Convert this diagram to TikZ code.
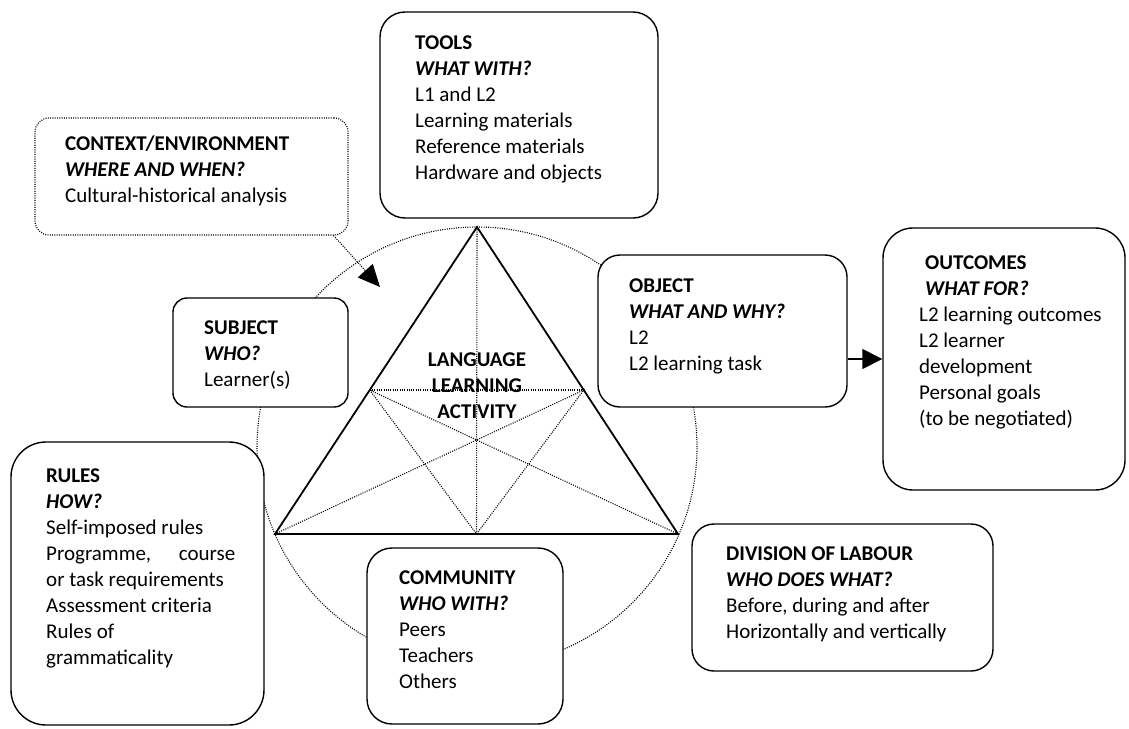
\documentclass[tikz,border=0pt]{standalone}
\usepackage{fontspec}
\setmainfont{Carlito}
\usetikzlibrary{arrows.meta,calc}
\newcommand\blk[1]{\begin{tabular}[t]{@{}l@{}}#1\end{tabular}}
\newcommand\blc[1]{\begin{tabular}[t]{@{}c@{}}#1\end{tabular}}
\newcommand\hd[1]{\textbf{#1}}
\newcommand\qu[1]{\textbf{\textit{#1}}}
\begin{document}
\begin{tikzpicture}[x=1pt,y=-1pt,
  box/.style={draw, line width=1.4pt, fill=white, rounded corners=#1, inner sep=0pt},
  box/.default=20pt,
  dots/.style={line width=1.1pt, dash pattern=on 1pt off 1.3pt},
  txt/.style={anchor=base west, inner sep=0pt, font=\fontsize{21}{26}\selectfont},
  ctxt/.style={anchor=base, inner sep=0pt, font=\fontsize{21}{26}\selectfont},
  tri/.style={line width=1.8pt, line join=miter},
  arr/.style={line width=1.5pt, -{Triangle[length=20pt,width=20pt]}}
]
\useasboundingbox (0,0) rectangle (1129,728);

% activity circle and triangle
\node[circle, draw, dots, minimum size=440pt, inner sep=0pt] (circ) at (477,447) {};
\coordinate (A) at (477,227);
\coordinate (L) at (275,534);
\coordinate (R) at (678,534);
\coordinate (M) at ($(L)!0.5!(R)$);
\coordinate (P) at ($(L)!0.469!(A)$);
\coordinate (Q) at ($(R)!0.469!(A)$);
\draw[dots] (A) -- (M);
\draw[dots] (P) -- (Q);
\draw[dots] (P) -- (M) -- (Q);
\draw[dots] (L) -- (Q);
\draw[dots] (R) -- (P);
\draw[tri] (A) -- (L) -- (R) -- cycle;
\node[ctxt] (act) at (477,366) {\blc{\hd{LANGUAGE}\\\hd{LEARNING}\\\hd{ACTIVITY}}};

% boxes
\node[box=14pt, dots, minimum width=313pt, minimum height=117pt] (ctx) at (191.5,176.5) {};
\node[box=25pt, minimum width=278pt, minimum height=206pt] (tools) at (519,115) {};
\node[box=14pt, minimum width=175pt, minimum height=109pt] (subj) at (260.5,352.5) {};
\node[box=22pt, minimum width=249pt, minimum height=152pt] (obj) at (722.5,331) {};
\node[box=30pt, minimum width=242pt, minimum height=262pt] (outc) at (1004,359) {};
\node[box=35pt, minimum width=253pt, minimum height=283pt] (rules) at (137.5,583.5) {};
\node[box=25pt, minimum width=196pt, minimum height=176pt] (comm) at (465,636) {};
\node[box=22pt, minimum width=301pt, minimum height=147pt] (div) at (842.5,597.5) {};

% texts
\node[txt] (tctx) at (65,150) {\blk{\hd{CONTEXT/ENVIRONMENT}\\\qu{WHERE AND WHEN?}\\Cultural-historical analysis}};
\node[txt] (ttools) at (415,49) {\blk{\hd{TOOLS}\\\qu{WHAT WITH?}\\L1 and L2\\Learning materials\\Reference materials\\Hardware and objects}};
\node[txt] (tsubj) at (204,334) {\blk{\hd{SUBJECT}\\\qu{WHO?}\\Learner(s)}};
\node[txt] (tobj) at (629,292) {\blk{\hd{OBJECT}\\\qu{WHAT AND WHY?}\\L2\\L2 learning task}};
\node[txt] (toutc) at (919,269) {\blk{\hspace*{6pt}\hd{OUTCOMES}\\\hspace*{6pt}\qu{WHAT FOR?}\\L2 learning outcomes\\L2 learner\\development\\Personal goals\\(to be negotiated)}};
\node[txt] (trules) at (46,482) {\blk{\hd{RULES}\\\qu{HOW?}\\Self-imposed rules\\\hbox to 189pt{Programme,\hfill course}\\or task requirements\\Assessment criteria\\Rules of\\grammaticality}};
\node[txt] (tcomm) at (399,584) {\blk{\hd{COMMUNITY}\\\qu{WHO WITH?}\\Peers\\Teachers\\Others}};
\node[txt] (tdiv) at (726,560) {\blk{\hd{DIVISION OF LABOUR}\\\qu{WHO DOES WHAT?}\\Before, during and after\\Horizontally and vertically}};

% connectors
\coordinate (ctip) at (380,287);
\draw[dots, -{Triangle[length=22pt,width=20pt]}] ($(ctx.south east)+(-15,0)$) -- (ctip);
\draw[arr] (obj.east |- outc.west) -- (outc.west);
\end{tikzpicture}
\end{document}
